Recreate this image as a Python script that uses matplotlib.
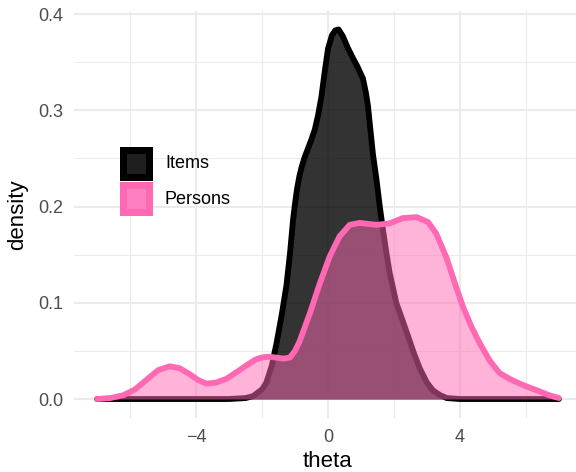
import matplotlib
matplotlib.use("Agg")
import matplotlib.pyplot as plt
from matplotlib.patches import Rectangle

plt.rcParams['font.family'] = ['Liberation Sans', 'DejaVu Sans']

# ---- data ----
items_theta = [-7.0, -4.0, -3.0, -2.5, -2.27, -2.0, -1.87, -1.7, -1.56, -1.4, -1.26, -1.15,
               -1.06, -1.0, -0.94, -0.87, -0.8, -0.71, -0.6, -0.5, -0.4, -0.3, -0.2, -0.1, 0.0, 0.12,
               0.22, 0.32, 0.45, 0.6, 0.76, 0.9, 1.06, 1.15, 1.21, 1.3, 1.36, 1.47, 1.57,
               1.67, 1.77, 1.87, 2.07, 2.38, 2.6, 2.78, 3.0, 3.18, 3.4, 3.6, 4.0, 7.0]
items_density = [0.0, 0.0, 0.0, 0.001, 0.003, 0.010, 0.017, 0.035, 0.058, 0.088, 0.118, 0.152,
                 0.186, 0.203, 0.218, 0.231, 0.241, 0.251, 0.261, 0.270, 0.280, 0.295, 0.314, 0.340,
                 0.364, 0.378, 0.383, 0.384, 0.377, 0.365, 0.354, 0.345, 0.333, 0.318, 0.305, 0.275,
                 0.255, 0.228, 0.200, 0.175, 0.152, 0.131, 0.100, 0.070, 0.048, 0.032, 0.017, 0.009,
                 0.004, 0.001, 0.0, 0.0]

persons_theta = [-7.0, -6.6, -6.2, -5.85, -5.5, -5.15, -4.8, -4.5, -4.2, -3.95, -3.69, -3.4,
                 -3.08, -2.77, -2.47, -2.2, -2.02, -1.8, -1.56, -1.35, -1.16, -1.0, -0.86, -0.55,
                 -0.25, 0.05, 0.35, 0.66, 0.96, 1.2, 1.47, 1.87, 2.27, 2.68, 3.03, 3.28, 3.59,
                 3.85, 4.09, 4.35, 4.6, 4.9, 5.2, 5.5, 5.81, 6.1, 6.41, 6.7, 7.0]
persons_density = [0.0, 0.001, 0.004, 0.010, 0.020, 0.030, 0.034, 0.032, 0.026, 0.020, 0.016, 0.017,
                   0.021, 0.028, 0.035, 0.041, 0.043, 0.044, 0.043, 0.042, 0.043, 0.050, 0.060, 0.089,
                   0.120, 0.148, 0.169, 0.181, 0.183, 0.182, 0.181, 0.1825, 0.188, 0.189, 0.184, 0.172,
                   0.147, 0.120, 0.096, 0.075, 0.058, 0.040, 0.027, 0.021, 0.016, 0.012, 0.008, 0.004,
                   0.001]

group_labels = ["Items", "Persons"]
x_ticks = [-4, 0, 4]
y_ticks = [0.0, 0.1, 0.2, 0.3, 0.4]

# ---- figure ----
W, H = 576, 472
fig = plt.figure(figsize=(W / 100, H / 100), dpi=100)
ax = fig.add_axes([74 / W, 1 - 417.5 / H, (582 - 74) / W, (417.5 - 11) / H])

ax.set_xlim(-7.7, 7.7)
ax.set_ylim(-0.0192, 0.4032)

grid_col = '#EBEBEB'
ax.set_xticks(x_ticks)
ax.set_xticks([-6, -2, 2, 6], minor=True)
ax.set_yticks(y_ticks)
ax.set_yticks([0.05, 0.15, 0.25, 0.35], minor=True)
ax.set_xticklabels(['\u22124', '0', '4'])
ax.set_yticklabels(['0.0', '0.1', '0.2', '0.3', '0.4'])
ax.grid(True, which='major', color=grid_col, linewidth=1.5)
ax.grid(True, which='minor', color=grid_col, linewidth=0.8)
ax.set_axisbelow(True)
for s in ax.spines.values():
    s.set_visible(False)
ax.tick_params(which='both', length=0, labelsize=13, labelcolor='#4D4D4D', pad=8)

black = '#000000'
pink = '#FF69B4'
lw = 4.2

ax.fill_between(items_theta, items_density, 0, color=black, alpha=0.8, linewidth=0, zorder=2)
ax.plot(items_theta, items_density, color=black, linewidth=lw, solid_capstyle='round',
        solid_joinstyle='round', zorder=3)
ax.fill_between(persons_theta, persons_density, 0, color=pink, alpha=0.5, linewidth=0, zorder=4)
ax.plot(persons_theta, persons_density, color=pink, linewidth=lw, solid_capstyle='round',
        solid_joinstyle='round', zorder=5)

ax.set_xlabel('theta', fontsize=16, color='black', labelpad=4)
ax.set_ylabel('density', fontsize=16, color='black', labelpad=7)

# ---- legend (manual, figure pixel coords) ----
def fx(px):
    return px / W

def fy(py):
    return 1 - py / H

key_specs = [
    (group_labels[0], '#000000', '#1F1F1F', 147),
    (group_labels[1], '#FF69B4', '#FF80C2', 182),
]
for label, edge, inner, top in key_specs:
    fig.add_artist(Rectangle((fx(120), fy(top + 34)), 33 / W, 34 / H,
                             facecolor=edge, edgecolor='none', transform=fig.transFigure))
    fig.add_artist(Rectangle((fx(127), fy(top + 27)), 19 / W, 20 / H,
                             facecolor=inner, edgecolor='none', transform=fig.transFigure))
    fig.text(fx(165), fy(top + 17), label, fontsize=13, color='black', va='center', ha='left')

fig.savefig('out.png', dpi=100)
